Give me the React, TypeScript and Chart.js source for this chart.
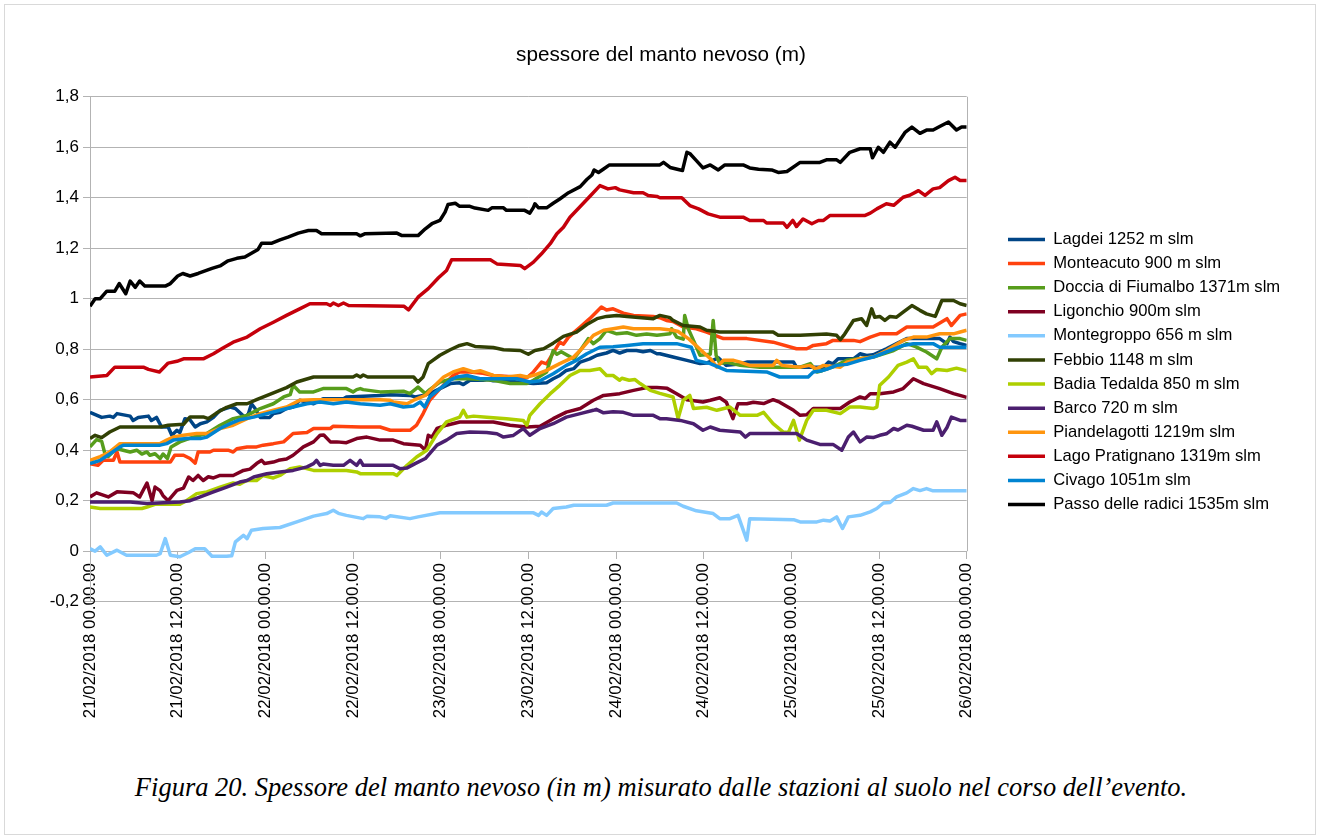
import React, { useEffect, useRef } from 'react';
import { Chart, registerables } from 'chart.js';

Chart.register(...registerables);

// ---------- text ----------
const TITLE = 'spessore del manto nevoso (m)';
const CAPTION =
  'Figura 20. Spessore del manto nevoso (in m) misurato dalle stazioni al suolo nel corso dell’evento.';

// x axis: hours since 21/02/2018 00:00, one label every 12 hours
const HOUR_STEP = 12;
const HOUR_MAX = 120;
const tickLabels = [
  '21/02/2018 00.00.00',
  '21/02/2018 12.00.00',
  '22/02/2018 00.00.00',
  '22/02/2018 12.00.00',
  '23/02/2018 00.00.00',
  '23/02/2018 12.00.00',
  '24/02/2018 00.00.00',
  '24/02/2018 12.00.00',
  '25/02/2018 00.00.00',
  '25/02/2018 12.00.00',
  '26/02/2018 00.00.00',
];

const stationNames = [
  'Lagdei 1252 m slm',
  'Monteacuto 900 m slm',
  'Doccia di Fiumalbo 1371m slm',
  'Ligonchio 900m slm',
  'Montegroppo 656 m slm',
  'Febbio 1148 m slm',
  'Badia Tedalda 850 m slm',
  'Barco 720 m slm',
  'Piandelagotti 1219m slm',
  'Lago Pratignano 1319m slm',
  'Civago 1051m slm',
  'Passo delle radici 1535m slm',
];

const stationColors = [
  '#004586', '#ff420e', '#579d1c', '#7e0021', '#83caff', '#314004',
  '#aecf00', '#4b1f6f', '#ff950e', '#c5000b', '#0084d1', '#000000',
];

// ---------- series: [hour, snow depth (m)] ----------
const lagdei: [number, number][] = [
  [0, 0.55], [1.6, 0.53], [2.7, 0.535], [3.2, 0.53], [3.7, 0.545], [5.5, 0.535], [5.9, 0.518], [6.6, 0.53],
  [8.0, 0.535], [8.4, 0.518], [9.1, 0.53], [9.8, 0.492], [10.7, 0.492], [11.2, 0.459], [11.9, 0.479], [12.3, 0.47],
  [13.0, 0.525], [13.7, 0.52], [14.4, 0.492], [15.1, 0.505], [16.0, 0.512], [16.9, 0.53], [17.8, 0.558], [19.2, 0.571],
  [19.9, 0.565], [21.2, 0.53], [21.7, 0.545], [22.1, 0.584], [22.6, 0.565], [23.3, 0.53], [24.6, 0.53], [25.1, 0.545],
  [26.0, 0.55], [26.9, 0.565], [27.8, 0.571], [28.7, 0.598], [30.6, 0.584], [31.9, 0.604], [34.7, 0.604], [35.1, 0.611],
  [39.7, 0.617], [41.1, 0.62], [43.8, 0.617], [44.5, 0.611], [45.6, 0.617], [46.5, 0.624], [47.9, 0.644], [49.3, 0.664],
  [50.6, 0.667], [51.1, 0.66], [52.0, 0.677], [53.8, 0.677], [54.5, 0.68], [55.2, 0.675], [56.2, 0.677], [58.4, 0.67],
  [60.7, 0.664], [62.5, 0.667], [63.4, 0.683], [64.3, 0.696], [65.2, 0.716], [66.2, 0.723], [67.1, 0.749], [68.4, 0.762],
  [69.4, 0.776], [70.7, 0.785], [71.6, 0.795], [72.5, 0.785], [73.5, 0.795], [74.8, 0.795], [75.7, 0.79], [76.7, 0.795],
  [77.6, 0.782], [78.0, 0.782], [79.8, 0.769], [81.7, 0.756], [83.5, 0.743], [84.4, 0.745], [86.0, 0.766], [87.1, 0.736],
  [88.5, 0.74], [89.9, 0.749], [96.3, 0.749], [96.7, 0.729], [100.4, 0.729], [101.1, 0.749], [101.7, 0.742], [102.4, 0.762],
  [104.5, 0.762], [105.4, 0.782], [106.3, 0.775], [107.2, 0.778], [109.0, 0.802], [110.4, 0.822], [111.8, 0.842], [116.3, 0.842],
  [117.3, 0.822], [117.7, 0.848], [118.2, 0.83], [119.1, 0.822], [120, 0.815],
];

const monteacuto: [number, number][] = [
  [0, 0.347], [1.1, 0.34], [1.8, 0.36], [3.2, 0.36], [3.7, 0.393], [4.1, 0.353], [11.0, 0.353], [11.6, 0.38],
  [12.8, 0.38], [13.7, 0.367], [14.4, 0.349], [14.8, 0.393], [16.4, 0.393], [16.9, 0.4], [18.9, 0.4], [19.6, 0.393],
  [20.1, 0.406], [21.5, 0.413], [22.8, 0.413], [23.7, 0.42], [25.1, 0.426], [26.5, 0.433], [27.8, 0.466], [29.7, 0.47],
  [30.6, 0.486], [32.9, 0.486], [33.3, 0.495], [37.0, 0.492], [39.7, 0.492], [41.1, 0.479], [43.8, 0.479], [44.7, 0.499],
  [45.6, 0.545], [46.5, 0.598], [47.7, 0.637], [48.8, 0.67], [49.7, 0.696], [50.6, 0.71], [52.0, 0.71], [53.8, 0.705],
  [55.2, 0.696], [59.8, 0.687], [60.7, 0.71], [61.8, 0.749], [62.5, 0.742], [63.2, 0.776], [64.3, 0.828], [64.8, 0.82],
  [65.5, 0.848], [67.1, 0.888], [68.4, 0.921], [70.0, 0.967], [70.7, 0.955], [71.6, 0.96], [73.0, 0.943], [74.4, 0.934],
  [77.1, 0.93], [78.0, 0.925], [78.9, 0.914], [79.8, 0.91], [81.2, 0.888], [83.0, 0.881], [84.4, 0.868], [86.7, 0.842],
  [89.9, 0.842], [93.5, 0.828], [96.7, 0.802], [98.1, 0.802], [99.0, 0.815], [100.8, 0.822], [101.7, 0.835], [103.1, 0.835],
  [104.5, 0.835], [105.4, 0.83], [106.8, 0.848], [108.1, 0.861], [110.4, 0.861], [111.8, 0.888], [115.4, 0.888], [117.3, 0.921],
  [117.9, 0.894], [119.1, 0.934], [120, 0.94],
];

const doccia: [number, number][] = [
  [0, 0.413], [0.9, 0.442], [1.6, 0.435], [2.1, 0.38], [2.5, 0.375], [3.2, 0.395], [3.7, 0.406], [5.5, 0.393],
  [6.4, 0.4], [7.1, 0.385], [7.8, 0.393], [8.2, 0.38], [8.9, 0.386], [9.6, 0.367], [10.0, 0.385], [10.6, 0.367],
  [11.1, 0.413], [12.3, 0.433], [14.1, 0.452], [16.0, 0.466], [17.8, 0.499], [19.6, 0.525], [21.5, 0.538], [23.3, 0.565],
  [25.1, 0.584], [26.5, 0.611], [27.4, 0.62], [27.8, 0.657], [28.7, 0.631], [30.6, 0.631], [31.9, 0.644], [35.1, 0.644],
  [36.0, 0.631], [36.5, 0.64], [37.0, 0.644], [37.4, 0.64], [39.7, 0.631], [42.9, 0.634], [43.8, 0.624], [44.9, 0.65],
  [45.9, 0.624], [46.5, 0.64], [47.9, 0.67], [49.7, 0.683], [52.0, 0.683], [55.2, 0.677], [57.5, 0.664], [59.8, 0.664],
  [60.7, 0.677], [62.5, 0.71], [63.4, 0.795], [63.9, 0.78], [64.5, 0.79], [65.4, 0.775], [66.2, 0.762], [67.1, 0.795],
  [68.2, 0.842], [68.9, 0.822], [69.8, 0.842], [70.7, 0.875], [72.1, 0.861], [73.5, 0.865], [74.8, 0.855], [76.2, 0.86],
  [77.6, 0.855], [79.4, 0.861], [79.6, 0.881], [80.3, 0.848], [81.2, 0.84], [81.4, 0.934], [81.9, 0.88], [82.6, 0.835],
  [83.5, 0.776], [84.9, 0.78], [85.3, 0.914], [85.7, 0.776], [86.2, 0.743], [87.2, 0.748], [89.0, 0.736], [91.7, 0.729],
  [97.2, 0.729], [98.6, 0.743], [99.5, 0.71], [100.2, 0.715], [101.7, 0.73], [103.6, 0.756], [107.2, 0.769], [110.0, 0.795],
  [111.8, 0.822], [113.0, 0.81], [114.5, 0.789], [115.9, 0.762], [116.6, 0.808], [117.7, 0.842], [119.1, 0.842], [120, 0.835],
];

const ligonchio: [number, number][] = [
  [0, 0.215], [0.9, 0.231], [2.5, 0.215], [3.7, 0.235], [5.9, 0.232], [6.8, 0.215], [7.8, 0.27], [8.5, 0.2],
  [8.9, 0.254], [9.6, 0.24], [10.0, 0.22], [10.7, 0.2], [11.9, 0.241], [12.8, 0.25], [13.5, 0.294], [14.1, 0.28],
  [14.8, 0.3], [15.5, 0.28], [16.2, 0.295], [16.9, 0.29], [17.8, 0.3], [19.6, 0.3], [21.0, 0.32], [21.9, 0.325],
  [22.8, 0.347], [23.5, 0.36], [23.9, 0.347], [25.1, 0.353], [25.8, 0.36], [26.9, 0.365], [27.8, 0.38], [29.2, 0.413],
  [30.6, 0.433], [31.5, 0.459], [32.0, 0.46], [32.9, 0.433], [33.8, 0.433], [35.1, 0.43], [36.5, 0.446], [37.9, 0.452],
  [39.7, 0.44], [41.5, 0.44], [42.9, 0.426], [45.2, 0.42], [45.9, 0.4], [46.3, 0.459], [46.8, 0.452], [47.5, 0.486],
  [48.8, 0.499], [50.6, 0.512], [55.2, 0.512], [57.5, 0.499], [59.8, 0.492], [61.6, 0.495], [63.4, 0.525], [65.2, 0.551],
  [67.1, 0.565], [68.9, 0.598], [70.3, 0.617], [72.5, 0.624], [74.4, 0.637], [76.2, 0.648], [77.6, 0.648], [79.0, 0.645],
  [80.3, 0.624], [81.7, 0.6], [83.9, 0.591], [84.9, 0.598], [86.2, 0.608], [87.1, 0.59], [88.0, 0.525], [88.7, 0.584],
  [89.9, 0.584], [90.8, 0.59], [92.2, 0.585], [93.5, 0.6], [94.4, 0.59], [96.3, 0.558], [97.2, 0.538], [98.1, 0.54],
  [99.0, 0.565], [102.7, 0.565], [104.0, 0.591], [105.4, 0.611], [106.1, 0.605], [106.8, 0.624], [108.1, 0.624], [110.0, 0.631],
  [111.3, 0.644], [112.7, 0.683], [114.1, 0.664], [116.3, 0.644], [118.2, 0.624], [119.8, 0.611], [120, 0.61],
];

const montegroppo: [number, number][] = [
  [0, 0.01], [0.7, 0.0], [1.4, 0.017], [2.3, -0.016], [3.7, 0.004], [5.0, -0.016], [9.1, -0.016], [9.6, -0.01],
  [10.3, 0.05], [11.0, -0.016], [12.3, -0.022], [13.5, -0.005], [14.4, 0.01], [15.7, 0.01], [16.7, -0.02], [18.7, -0.02],
  [19.4, -0.018], [19.9, 0.037], [21.0, 0.063], [21.5, 0.05], [22.1, 0.083], [23.7, 0.09], [26.0, 0.094], [28.3, 0.116],
  [30.6, 0.139], [32.4, 0.149], [33.3, 0.162], [34.0, 0.15], [35.1, 0.142], [37.4, 0.129], [37.9, 0.138], [39.7, 0.136],
  [40.5, 0.13], [41.1, 0.14], [43.8, 0.129], [44.9, 0.136], [47.9, 0.152], [60.7, 0.152], [61.4, 0.142], [61.8, 0.155],
  [62.5, 0.142], [63.4, 0.169], [65.2, 0.175], [66.2, 0.182], [70.7, 0.182], [71.6, 0.191], [80.3, 0.191], [81.2, 0.178],
  [83.0, 0.16], [85.3, 0.149], [86.2, 0.129], [87.6, 0.129], [88.7, 0.142], [89.9, 0.044], [90.3, 0.129], [96.3, 0.125],
  [97.2, 0.116], [99.5, 0.116], [100.4, 0.123], [101.3, 0.12], [102.2, 0.136], [103.0, 0.09], [103.8, 0.136], [105.4, 0.142],
  [106.8, 0.156], [107.7, 0.169], [108.6, 0.191], [109.5, 0.193], [110.4, 0.215], [111.8, 0.231], [112.7, 0.248], [113.6, 0.24],
  [114.5, 0.248], [115.4, 0.239], [120, 0.239],
];

const febbio: [number, number][] = [
  [0, 0.446], [0.7, 0.459], [1.6, 0.45], [2.7, 0.472], [4.1, 0.492], [9.6, 0.492], [10.7, 0.499], [12.8, 0.503],
  [13.7, 0.532], [15.5, 0.532], [16.2, 0.525], [17.3, 0.547], [18.7, 0.57], [20.1, 0.584], [21.5, 0.584], [22.8, 0.6],
  [24.6, 0.621], [26.9, 0.648], [28.3, 0.67], [30.6, 0.69], [36.0, 0.69], [36.5, 0.698], [37.0, 0.69], [37.4, 0.698],
  [38.0, 0.69], [44.3, 0.69], [44.9, 0.67], [45.6, 0.69], [46.3, 0.743], [47.9, 0.776], [49.3, 0.798], [50.6, 0.815],
  [51.6, 0.822], [52.7, 0.811], [55.2, 0.807], [56.6, 0.798], [58.9, 0.795], [60.0, 0.78], [60.9, 0.795], [62.1, 0.802],
  [63.4, 0.824], [64.8, 0.851], [66.6, 0.868], [68.0, 0.898], [69.4, 0.921], [70.7, 0.93], [72.1, 0.934], [73.5, 0.93],
  [77.1, 0.921], [78.0, 0.934], [79.4, 0.925], [79.8, 0.914], [81.2, 0.894], [83.5, 0.888], [84.4, 0.875], [86.2, 0.868],
  [93.5, 0.868], [94.2, 0.855], [97.2, 0.855], [100.8, 0.86], [102.2, 0.855], [102.7, 0.838], [103.3, 0.86], [104.5, 0.914],
  [105.6, 0.921], [106.3, 0.894], [107.0, 0.96], [107.4, 0.927], [108.1, 0.93], [108.8, 0.914], [109.5, 0.93], [110.4, 0.927],
  [111.3, 0.947], [112.5, 0.973], [113.6, 0.954], [114.5, 0.94], [115.7, 0.93], [116.6, 0.993], [118.2, 0.993], [119.1, 0.98],
  [120, 0.973],
];

const badia: [number, number][] = [
  [0, 0.175], [1.4, 0.169], [7.1, 0.169], [7.8, 0.175], [8.9, 0.186], [12.3, 0.186], [13.2, 0.2], [14.6, 0.228],
  [16.0, 0.235], [17.8, 0.254], [19.6, 0.27], [20.5, 0.265], [21.5, 0.281], [22.8, 0.28], [23.7, 0.3], [25.1, 0.29],
  [26.0, 0.3], [27.4, 0.327], [28.7, 0.334], [30.6, 0.32], [35.1, 0.32], [36.5, 0.314], [37.0, 0.307], [41.5, 0.307],
  [42.0, 0.3], [43.4, 0.34], [44.7, 0.373], [46.1, 0.4], [47.5, 0.466], [48.8, 0.512], [50.6, 0.531], [51.1, 0.558],
  [51.6, 0.531], [52.5, 0.535], [54.3, 0.531], [57.0, 0.525], [59.3, 0.518], [59.8, 0.499], [60.2, 0.538], [61.6, 0.584],
  [63.0, 0.624], [64.3, 0.657], [65.7, 0.696], [67.1, 0.716], [68.4, 0.716], [69.8, 0.723], [70.7, 0.696], [71.6, 0.696],
  [72.5, 0.677], [72.8, 0.685], [73.8, 0.677], [74.6, 0.68], [75.3, 0.664], [76.7, 0.637], [78.0, 0.625], [79.8, 0.611],
  [80.5, 0.525], [81.2, 0.598], [82.1, 0.617], [82.6, 0.565], [84.4, 0.57], [85.8, 0.558], [87.6, 0.571], [89.0, 0.538],
  [91.3, 0.538], [92.2, 0.55], [93.5, 0.505], [94.9, 0.472], [95.6, 0.47], [96.3, 0.518], [97.1, 0.44], [98.1, 0.518],
  [99.0, 0.558], [100.8, 0.558], [102.7, 0.545], [104.0, 0.571], [105.4, 0.571], [107.2, 0.565], [107.7, 0.571], [108.1, 0.657],
  [109.3, 0.69], [110.6, 0.736], [111.8, 0.749], [112.7, 0.762], [113.4, 0.729], [114.5, 0.729], [115.2, 0.703], [115.9, 0.72],
  [117.3, 0.716], [118.6, 0.725], [119.8, 0.716], [120, 0.716],
];

const barco: [number, number][] = [
  [0, 0.195], [5.5, 0.195], [7.8, 0.189], [12.3, 0.195], [13.7, 0.2], [15.1, 0.215], [16.9, 0.235], [18.7, 0.254],
  [20.5, 0.274], [21.5, 0.28], [22.4, 0.294], [24.2, 0.307], [26.0, 0.314], [27.8, 0.32], [29.7, 0.334], [30.6, 0.347],
  [31.0, 0.36], [31.5, 0.34], [31.9, 0.345], [33.3, 0.34], [34.7, 0.34], [35.6, 0.36], [36.5, 0.34], [37.0, 0.36],
  [37.4, 0.34], [41.5, 0.34], [42.4, 0.327], [43.4, 0.33], [44.5, 0.347], [45.9, 0.367], [47.5, 0.42], [48.8, 0.44],
  [50.2, 0.466], [52.0, 0.472], [54.3, 0.47], [55.7, 0.465], [56.6, 0.452], [57.9, 0.458], [59.3, 0.486], [60.2, 0.459],
  [61.6, 0.486], [63.4, 0.505], [65.2, 0.531], [67.1, 0.545], [68.9, 0.558], [69.3, 0.562], [70.3, 0.548], [71.6, 0.552],
  [73.0, 0.55], [74.4, 0.538], [77.1, 0.538], [78.0, 0.525], [78.9, 0.525], [80.8, 0.518], [82.6, 0.505], [83.9, 0.479],
  [84.9, 0.492], [86.2, 0.479], [89.0, 0.472], [89.7, 0.452], [90.3, 0.466], [96.7, 0.466], [98.1, 0.44], [99.9, 0.423],
  [101.7, 0.423], [102.9, 0.4], [103.8, 0.452], [104.5, 0.472], [105.4, 0.433], [106.3, 0.452], [107.2, 0.45], [108.1, 0.459],
  [109.0, 0.465], [110.0, 0.486], [110.6, 0.48], [111.8, 0.499], [112.5, 0.495], [114.1, 0.479], [115.4, 0.479], [115.9, 0.512],
  [116.6, 0.459], [117.3, 0.49], [117.9, 0.531], [119.1, 0.518], [120, 0.518],
];

const piandelagotti: [number, number][] = [
  [0, 0.36], [1.4, 0.375], [2.7, 0.393], [4.1, 0.426], [9.6, 0.426], [10.5, 0.44], [11.4, 0.452], [12.8, 0.459],
  [14.6, 0.466], [16.0, 0.466], [17.8, 0.486], [19.6, 0.499], [21.5, 0.525], [23.3, 0.545], [25.1, 0.558], [26.9, 0.571],
  [28.7, 0.598], [30.6, 0.6], [39.7, 0.6], [41.1, 0.598], [41.5, 0.591], [43.4, 0.584], [44.3, 0.598], [45.9, 0.617],
  [47.0, 0.65], [48.4, 0.69], [49.7, 0.71], [51.1, 0.723], [52.5, 0.71], [53.4, 0.715], [55.2, 0.696], [57.0, 0.69],
  [58.9, 0.696], [59.8, 0.69], [61.1, 0.7], [62.5, 0.716], [64.3, 0.743], [66.2, 0.769], [67.5, 0.808], [68.9, 0.855],
  [70.3, 0.875], [71.6, 0.881], [73.0, 0.888], [74.4, 0.881], [78.0, 0.881], [79.8, 0.875], [80.5, 0.87], [82.0, 0.84],
  [83.5, 0.8], [85.0, 0.76], [85.8, 0.729], [86.7, 0.756], [88.1, 0.756], [89.0, 0.749], [90.3, 0.736], [93.5, 0.736],
  [94.0, 0.756], [94.7, 0.736], [97.2, 0.729], [98.5, 0.736], [99.4, 0.722], [100.4, 0.736], [102.7, 0.729], [103.6, 0.749],
  [105.4, 0.762], [107.2, 0.769], [109.0, 0.795], [111.3, 0.835], [112.7, 0.848], [114.5, 0.848], [116.3, 0.861], [118.2, 0.861],
  [119.1, 0.868], [120, 0.875],
];

const pratignano: [number, number][] = [
  [0, 0.69], [2.3, 0.696], [3.4, 0.729], [7.3, 0.729], [8.0, 0.72], [9.5, 0.71], [10.7, 0.745], [11.9, 0.752],
  [12.8, 0.762], [15.5, 0.762], [16.9, 0.782], [18.2, 0.805], [19.6, 0.828], [21.5, 0.848], [23.3, 0.881], [25.1, 0.907],
  [26.9, 0.934], [28.7, 0.96], [30.1, 0.98], [32.4, 0.98], [32.9, 0.973], [33.3, 0.983], [34.0, 0.973], [34.7, 0.983],
  [35.4, 0.973], [43.0, 0.97], [43.6, 0.956], [44.9, 1.006], [46.3, 1.04], [47.7, 1.083], [48.8, 1.112], [49.5, 1.154],
  [54.8, 1.154], [55.7, 1.138], [58.9, 1.132], [59.5, 1.119], [60.7, 1.145], [61.8, 1.178], [63.0, 1.218], [63.9, 1.257],
  [64.8, 1.283], [65.7, 1.323], [67.1, 1.365], [68.4, 1.405], [69.8, 1.448], [70.9, 1.435], [71.9, 1.44], [72.5, 1.431],
  [74.4, 1.42], [75.7, 1.42], [76.4, 1.409], [77.6, 1.405], [78.0, 1.4], [81.0, 1.4], [82.1, 1.369], [83.3, 1.356],
  [84.6, 1.336], [86.2, 1.323], [89.4, 1.323], [90.3, 1.31], [92.2, 1.31], [92.6, 1.3], [94.9, 1.3], [95.4, 1.283],
  [96.2, 1.31], [96.7, 1.286], [97.6, 1.316], [98.8, 1.297], [99.7, 1.31], [100.4, 1.31], [101.3, 1.33], [106.1, 1.33],
  [106.8, 1.339], [107.7, 1.356], [109.0, 1.376], [110.0, 1.37], [111.3, 1.402], [112.2, 1.41], [113.4, 1.428], [114.3, 1.409],
  [115.4, 1.435], [116.3, 1.44], [117.5, 1.468], [118.4, 1.481], [119.1, 1.468], [120, 1.468],
];

const civago: [number, number][] = [
  [0, 0.347], [1.4, 0.36], [2.7, 0.385], [4.1, 0.413], [4.6, 0.42], [9.6, 0.42], [10.5, 0.426], [11.4, 0.44],
  [13.2, 0.446], [15.1, 0.446], [16.0, 0.452], [17.8, 0.486], [19.2, 0.505], [20.5, 0.521], [22.4, 0.531], [24.2, 0.545],
  [26.0, 0.558], [27.8, 0.571], [29.7, 0.584], [31.5, 0.591], [33.3, 0.584], [35.1, 0.591], [37.0, 0.584], [39.7, 0.578],
  [41.1, 0.584], [42.9, 0.571], [44.3, 0.575], [45.2, 0.591], [45.8, 0.571], [46.5, 0.611], [47.9, 0.644], [49.3, 0.677],
  [50.2, 0.69], [51.6, 0.696], [53.4, 0.683], [58.4, 0.683], [60.2, 0.67], [61.6, 0.675], [63.4, 0.703], [65.2, 0.736],
  [66.6, 0.756], [68.0, 0.782], [69.8, 0.808], [71.6, 0.81], [73.5, 0.815], [75.7, 0.822], [80.3, 0.822], [82.3, 0.808],
  [83.0, 0.756], [84.9, 0.743], [87.1, 0.716], [92.6, 0.71], [94.4, 0.69], [98.3, 0.69], [99.0, 0.71], [100.2, 0.715],
  [100.8, 0.72], [102.2, 0.736], [103.6, 0.74], [105.4, 0.756], [107.2, 0.769], [109.0, 0.789], [111.3, 0.815], [112.7, 0.822],
  [115.4, 0.822], [116.3, 0.808], [120, 0.808],
];

const passo: [number, number][] = [
  [0, 0.97], [0.7, 1.0], [1.4, 1.0], [2.3, 1.03], [3.4, 1.03], [4.0, 1.06], [4.9, 1.02], [5.5, 1.07],
  [6.2, 1.045], [6.8, 1.07], [7.5, 1.05], [10.3, 1.05], [11.0, 1.06], [12.0, 1.09], [12.7, 1.1], [13.7, 1.09],
  [14.8, 1.1], [16.7, 1.12], [17.8, 1.13], [18.9, 1.15], [20.1, 1.16], [21.2, 1.165], [22.1, 1.18], [23.0, 1.195],
  [23.5, 1.22], [24.9, 1.22], [26.0, 1.233], [27.1, 1.244], [28.5, 1.26], [29.9, 1.27], [31.0, 1.27], [31.7, 1.257],
  [36.5, 1.257], [37.0, 1.249], [37.6, 1.257], [42.0, 1.26], [42.7, 1.25], [44.9, 1.25], [45.9, 1.277], [46.8, 1.297],
  [47.9, 1.31], [48.6, 1.343], [49.0, 1.373], [50.0, 1.378], [50.6, 1.366], [52.0, 1.366], [52.7, 1.359], [54.5, 1.35],
  [55.0, 1.36], [56.6, 1.36], [57.0, 1.35], [59.5, 1.35], [60.2, 1.339], [60.7, 1.362], [60.9, 1.376], [61.4, 1.36],
  [62.5, 1.36], [63.4, 1.378], [64.3, 1.395], [65.5, 1.42], [67.1, 1.444], [68.0, 1.472], [68.7, 1.49], [69.0, 1.51],
  [69.6, 1.5], [70.3, 1.514], [71.1, 1.53], [78.0, 1.53], [78.5, 1.54], [79.4, 1.52], [81.1, 1.508], [81.7, 1.58],
  [82.1, 1.575], [83.0, 1.547], [83.9, 1.518], [84.9, 1.53], [86.0, 1.51], [86.9, 1.53], [89.4, 1.53], [90.3, 1.518],
  [91.5, 1.513], [93.3, 1.51], [94.2, 1.5], [95.4, 1.504], [97.2, 1.54], [99.9, 1.54], [100.8, 1.55], [102.2, 1.55],
  [102.7, 1.54], [104.0, 1.58], [105.4, 1.594], [106.8, 1.594], [107.1, 1.558], [107.9, 1.6], [108.6, 1.58], [109.5, 1.62],
  [110.2, 1.6], [111.6, 1.66], [112.5, 1.68], [113.6, 1.655], [114.5, 1.668], [115.4, 1.668], [116.3, 1.682], [117.5, 1.7],
  [118.6, 1.668], [119.3, 1.68], [120, 1.68],
];

const seriesValues = [
  lagdei, monteacuto, doccia, ligonchio, montegroppo, febbio,
  badia, barco, piandelagotti, pratignano, civago, passo,
];

// y axis
const Y_MIN = -0.2;
const Y_MAX = 1.8;
const Y_STEP = 0.2;

// ---------- layout constants ----------
const W = 1322;
const H = 838;
const CANVAS_H = 744;
const PLOT_LEFT = 90;
const PLOT_RIGHT = 966.7;
const PLOT_BOTTOM = 601.7;
const LEGEND_LEFT = 1000.5;
const FONT = '"Liberation Sans", Arial, Helvetica, sans-serif';
const GRID = '#b3b3b3';
const LEGEND_FONT = 16.6;
const LEGEND_PAD = 7.5;
const LEGEND_BOX = 37;

const rightEdgeLine = {
  id: 'rightEdgeLine',
  beforeDatasetsDraw(chart: any) {
    const { ctx, chartArea, scales } = chart;
    const y0 = scales.y.getPixelForValue(0);
    const x = Math.round(chartArea.right) + 0.5;
    ctx.save();
    ctx.strokeStyle = GRID;
    ctx.lineWidth = 1;
    ctx.beginPath();
    ctx.moveTo(x, chartArea.top);
    ctx.lineTo(x, y0);
    ctx.stroke();
    ctx.restore();
  },
};

export default function App() {
  const canvasRef = useRef<HTMLCanvasElement | null>(null);

  useEffect(() => {
    const canvas = canvasRef.current;
    if (!canvas) return;

    const m = document.createElement('canvas').getContext('2d')!;
    m.font = `${LEGEND_FONT}px ${FONT}`;
    const maxText = Math.max(...stationNames.map((n) => m.measureText(n).width));
    const legendW = LEGEND_PAD + LEGEND_BOX + LEGEND_FONT / 2 + maxText + 10;
    // symmetric side padding keeps the title centred on the canvas
    const sidePad = Math.max(0, W - LEGEND_LEFT - legendW);

    const datasets = stationNames.map((name, i) => ({
      label: name,
      data: seriesValues[i],
      borderColor: stationColors[i],
      backgroundColor: stationColors[i],
      borderWidth: 3.5,
      pointRadius: 0,
      pointHoverRadius: 0,
      tension: 0,
      borderJoinStyle: 'round' as const,
      fill: false,
      order: stationNames.length - i,
      xAxisID: 'x',
      yAxisID: 'y',
    }));

    const chart = new Chart(canvas, {
      type: 'line',
      data: { datasets },
      plugins: [rightEdgeLine],
      options: {
        animation: false,
        responsive: false,
        maintainAspectRatio: false,
        devicePixelRatio: 1,
        layout: { padding: { left: sidePad, right: sidePad, top: 0, bottom: 0 } },
        plugins: {
          title: {
            display: true,
            text: TITLE,
            color: '#000',
            font: { family: FONT, size: 20.7, weight: 'normal' },
            padding: { top: 42.6, bottom: 29.3 },
          },
          legend: {
            display: true,
            position: 'right',
            align: 'center',
            maxWidth: 600,
            labels: {
              color: '#000',
              font: { family: FONT, size: LEGEND_FONT },
              usePointStyle: true,
              pointStyle: 'line',
              pointStyleWidth: LEGEND_BOX,
              padding: LEGEND_PAD,
              sort: (a: any, b: any) => a.datasetIndex - b.datasetIndex,
            },
          },
          tooltip: { enabled: false },
        },
        scales: {
          x: {
            type: 'linear',
            position: { y: 0 } as any,
            min: 0,
            max: HOUR_MAX,
            grid: {
              display: true,
              drawOnChartArea: false,
              drawTicks: true,
              tickLength: 7,
              color: GRID,
            },
            border: { display: true, color: GRID, width: 1 },
            ticks: {
              stepSize: HOUR_STEP,
              autoSkip: false,
              minRotation: 90,
              maxRotation: 90,
              padding: 5,
              color: '#000',
              font: { family: FONT, size: 16.9 },
              callback: (v: any) => tickLabels[Math.round(Number(v) / HOUR_STEP)] ?? '',
            },
          },
          xb: {
            type: 'linear',
            position: 'bottom',
            display: true,
            grid: { display: false },
            border: { display: false },
            ticks: { display: false },
            afterFit: (s: any) => {
              s.height = CANVAS_H - PLOT_BOTTOM;
            },
          },
          y: {
            type: 'linear',
            position: 'left',
            min: Y_MIN,
            max: Y_MAX,
            grid: { color: GRID, tickLength: 7, drawTicks: true },
            border: { display: true, color: GRID, width: 1 },
            ticks: {
              stepSize: Y_STEP,
              padding: 4,
              color: '#000',
              font: { family: FONT, size: 17 },
              callback: (v: any) => String(Math.round(Number(v) * 10) / 10).replace('.', ','),
            },
            afterFit: (s: any) => {
              s.width = PLOT_LEFT - sidePad;
            },
          },
          yr: {
            type: 'linear',
            position: 'right',
            display: true,
            grid: { display: false },
            border: { display: false },
            ticks: { display: false },
            afterFit: (s: any) => {
              s.width = LEGEND_LEFT - PLOT_RIGHT;
            },
          },
        },
      } as any,
    });

    return () => chart.destroy();
  }, []);

  return (
    <div
      style={{
        position: 'absolute',
        left: 0,
        top: 0,
        width: W,
        height: H,
        background: '#fff',
        overflow: 'hidden',
      }}
    >
      <div
        style={{
          position: 'absolute',
          left: 4,
          top: 4,
          width: 1312,
          height: 831,
          border: '1px solid #d9d9d9',
          boxSizing: 'border-box',
        }}
      />
      <canvas
        ref={canvasRef}
        width={W}
        height={CANVAS_H}
        style={{ position: 'absolute', left: 0, top: 0, width: W, height: CANVAS_H }}
      />
      <div
        style={{
          position: 'absolute',
          left: 0,
          top: 774,
          width: W,
          textAlign: 'center',
          fontFamily: '"Liberation Serif", "Times New Roman", serif',
          fontStyle: 'italic',
          fontSize: 26.5,
          lineHeight: '26.5px',
          color: '#000',
          whiteSpace: 'nowrap',
        }}
      >
        {CAPTION}
      </div>
    </div>
  );
}
